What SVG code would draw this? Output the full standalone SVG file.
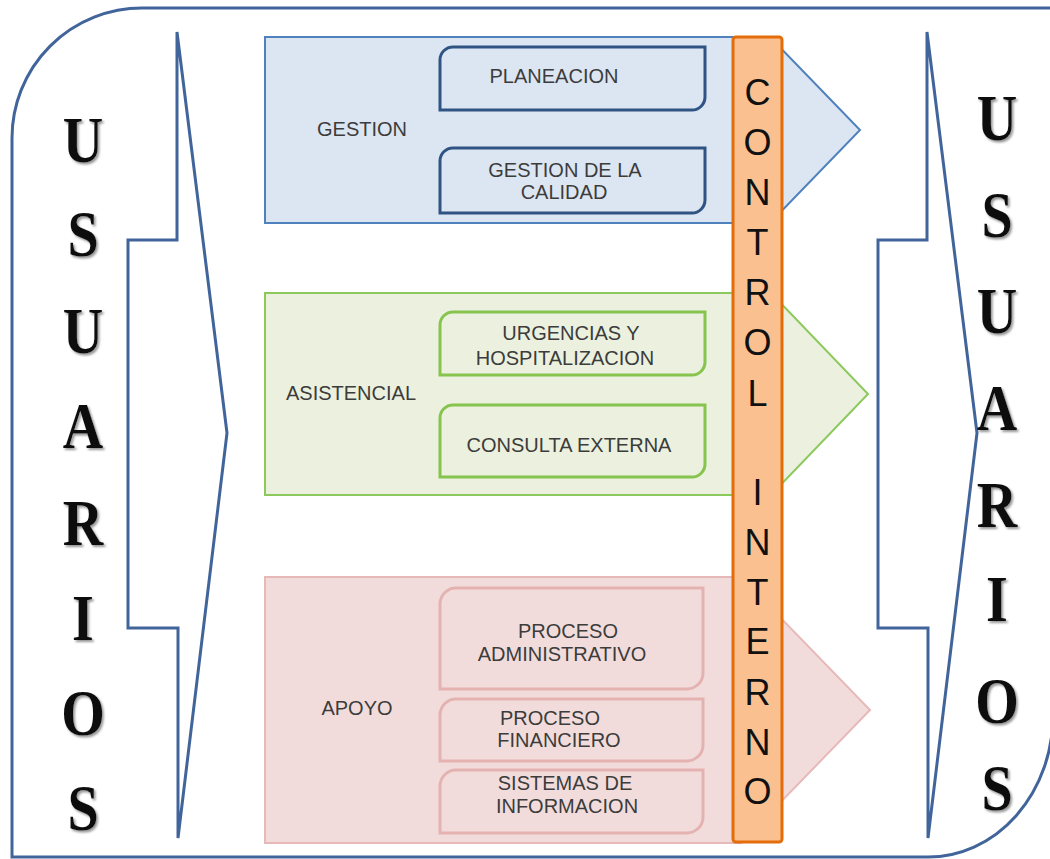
<svg xmlns="http://www.w3.org/2000/svg" width="1050" height="859" viewBox="0 0 1050 859">
  <defs>
    <filter id="sh" x="-20%" y="-20%" width="150%" height="150%">
      <feDropShadow dx="2" dy="2" stdDeviation="1" flood-color="#8a8a8a" flood-opacity="0.9"/>
    </filter>
  </defs>
  <style>
    .frame{fill:#ffffff;stroke:#41659b;stroke-width:3}
    .side{fill:#ffffff;stroke:#41659b;stroke-width:3;stroke-linejoin:miter}
    .usr{font-family:"Liberation Serif","Times New Roman",serif;font-size:66px;font-weight:bold;fill:#111111;text-anchor:middle;filter:url(#sh)}
    .blkB{fill:#dce6f2;stroke:#4f81bd;stroke-width:2}
    .blkG{fill:#ebf1de;stroke:#8cc95c;stroke-width:2}
    .blkP{fill:#f2dcdb;stroke:#e6b9b8;stroke-width:2}
    .subB{fill:#dce6f2;stroke:#2f5483;stroke-width:3}
    .subG{fill:#ebf1de;stroke:#86c44e;stroke-width:3}
    .subP{fill:#f2dcdb;stroke:#e3b2b1;stroke-width:3}
    .lbl{font-family:"Liberation Sans",Arial,sans-serif;font-size:20px;fill:#3c3c3c;text-anchor:middle}
    .bar{fill:#fac090;stroke:#e46c0a;stroke-width:3}
    .ci{font-family:"Liberation Sans",Arial,sans-serif;font-size:36px;fill:#111111;text-anchor:middle}
  </style>

  <g id="frame">
    <path class="frame" d="M12,857 V138 A130,130 0 0 1 142,8 H1053 V715 A125,142 0 0 1 928,857 Z"/>
  </g>

  <g id="usuarios-left">
    <polygon class="side" points="177,32 227,433 178,838 178,628 128,628 128,240 177,240"/>
    <text class="usr" transform="translate(83,0) scale(0.85,1)">
      <tspan x="0" y="162">U</tspan><tspan x="0" y="256">S</tspan><tspan x="0" y="353">U</tspan><tspan x="0" y="448">A</tspan><tspan x="0" y="545">R</tspan><tspan x="0" y="640">I</tspan><tspan x="0" y="735">O</tspan><tspan x="0" y="830">S</tspan>
    </text>
  </g>

  <g id="usuarios-right">
    <polygon class="side" points="927,32 977,433 928,838 928,628 878,628 878,240 927,240"/>
    <text class="usr" transform="translate(997,0) scale(0.85,1)">
      <tspan x="0" y="140">U</tspan><tspan x="0" y="237">S</tspan><tspan x="0" y="333">U</tspan><tspan x="0" y="430">A</tspan><tspan x="0" y="527">R</tspan><tspan x="0" y="621">I</tspan><tspan x="0" y="723">O</tspan><tspan x="0" y="810">S</tspan>
    </text>
  </g>

  <g id="gestion">
    <polygon class="blkB" points="265,37 770,37 860,130 770,223 265,223"/>
    <text class="lbl" x="362" y="136">GESTION</text>
  </g>
  <g id="planeacion">
    <path class="subB" d="M453,47 H705 V97 A13,13 0 0 1 692,110 H440 V60 A13,13 0 0 1 453,47 Z"/>
    <text class="lbl" x="554" y="83">PLANEACION</text>
  </g>
  <g id="gestion-calidad">
    <path class="subB" d="M453,148 H705 V200 A13,13 0 0 1 692,213 H440 V161 A13,13 0 0 1 453,148 Z"/>
    <text class="lbl"><tspan x="565" y="177">GESTION DE LA</tspan><tspan x="564" y="199">CALIDAD</tspan></text>
  </g>

  <g id="asistencial">
    <polygon class="blkG" points="265,293 771,293 868,394 771,495 265,495"/>
    <text class="lbl" x="351" y="400">ASISTENCIAL</text>
  </g>
  <g id="urgencias">
    <path class="subG" d="M453,312 H705 V362 A13,13 0 0 1 692,375 H440 V325 A13,13 0 0 1 453,312 Z"/>
    <text class="lbl"><tspan x="571" y="340">URGENCIAS Y</tspan><tspan x="565" y="365">HOSPITALIZACION</tspan></text>
  </g>
  <g id="consulta-externa">
    <path class="subG" d="M453,405 H705 V464 A13,13 0 0 1 692,477 H440 V418 A13,13 0 0 1 453,405 Z"/>
    <text class="lbl" x="569" y="452">CONSULTA EXTERNA</text>
  </g>

  <g id="apoyo">
    <polygon class="blkP" points="265,577 741,577 870,710 741,843 265,843"/>
    <text class="lbl" x="357" y="715">APOYO</text>
  </g>
  <g id="proceso-administrativo">
    <path class="subP" d="M456,588 H703 V673 A16,16 0 0 1 687,689 H440 V604 A16,16 0 0 1 456,588 Z"/>
    <text class="lbl"><tspan x="568" y="638">PROCESO</tspan><tspan x="562" y="661">ADMINISTRATIVO</tspan></text>
  </g>
  <g id="proceso-financiero">
    <path class="subP" d="M456,699 H703 V745 A16,16 0 0 1 687,761 H440 V715 A16,16 0 0 1 456,699 Z"/>
    <text class="lbl"><tspan x="550" y="725">PROCESO</tspan><tspan x="559" y="747">FINANCIERO</tspan></text>
  </g>
  <g id="sistemas-informacion">
    <path class="subP" d="M456,770 H703 V817 A16,16 0 0 1 687,833 H440 V786 A16,16 0 0 1 456,770 Z"/>
    <text class="lbl"><tspan x="565" y="790">SISTEMAS DE</tspan><tspan x="567" y="813">INFORMACION</tspan></text>
  </g>

  <g id="control-interno">
    <rect class="bar" x="733" y="37" width="49" height="805" rx="3"/>
    <text class="ci"><tspan x="757.5" y="105">C</tspan><tspan x="757.5" y="155">O</tspan><tspan x="757.5" y="205">N</tspan><tspan x="757.5" y="255">T</tspan><tspan x="757.5" y="305">R</tspan><tspan x="757.5" y="355">O</tspan><tspan x="757.5" y="406">L</tspan></text>
    <text class="ci"><tspan x="757.5" y="505">I</tspan><tspan x="757.5" y="555">N</tspan><tspan x="757.5" y="605">T</tspan><tspan x="757.5" y="654">E</tspan><tspan x="757.5" y="705">R</tspan><tspan x="757.5" y="755">N</tspan><tspan x="757.5" y="804">O</tspan></text>
  </g>

  <g id="connectors"></g>
</svg>
